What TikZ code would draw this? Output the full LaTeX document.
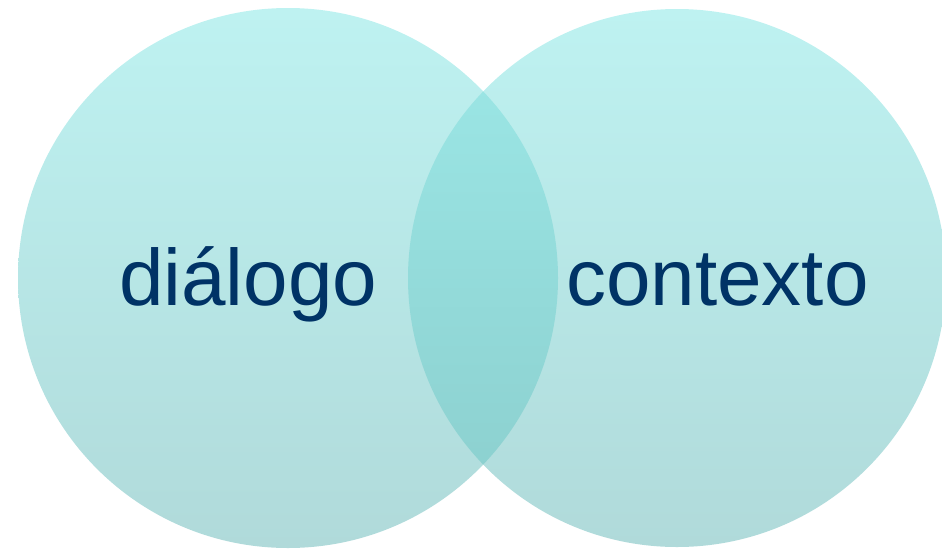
\documentclass[tikz,border=0pt]{standalone}
\usepackage{fontspec}
\setmainfont{Liberation Sans}
\definecolor{ringtop}{RGB}{190,242,241}
\definecolor{ringbot}{RGB}{176,218,218}
\definecolor{lenstop}{RGB}{157,233,232}
\definecolor{lensbot}{RGB}{138,205,204}
\definecolor{labelblue}{RGB}{0,51,102}
\begin{document}
\begin{tikzpicture}[x=1pt,y=-1pt,
  ring/.style={top color=ringtop,bottom color=ringbot,draw=none},
  lens/.style={top color=lenstop,bottom color=lensbot,draw=none},
  word/.style={anchor=base west,inner sep=0pt,text=labelblue,
    font=\fontsize{80}{96}\selectfont}]
  \useasboundingbox (0,0) rectangle (942,549);
  % two overlapping circles
  \shade[ring] (288,278) circle[radius=270];
  \shade[ring] (677,278) circle[radius=269];
  % shared region, darker
  \begin{scope}
    \clip (288,278) circle[radius=270];
    \shade[lens] (677,278) circle[radius=269];
  \end{scope}
  \node[word] (dialogo) at (119,305) {diálogo};
  \node[word] (contexto) at (566,305) {contexto};
\end{tikzpicture}
\end{document}
